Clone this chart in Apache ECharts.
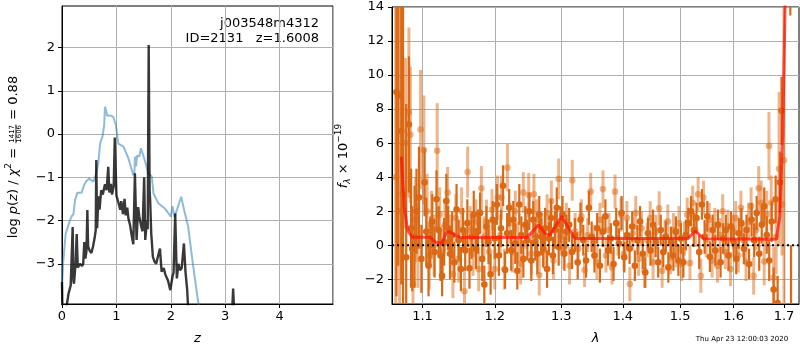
<!DOCTYPE html>
<html>
<head>
<meta charset="utf-8">
<script src="https://cdn.jsdelivr.net/npm/echarts@6/dist/echarts.min.js"></script>
<style>
html, body { margin: 0; padding: 0; background: #fff; }
#main { width: 800px; height: 350px; }
</style>
</head>
<body>
<div id="main"></div>
<script>
// ---- p(z) panel ----
var pzBlueZ = [0, 0.02, 0.068, 0.147, 0.18, 0.21, 0.24, 0.28, 0.36, 0.40, 0.44, 0.5, 0.576, 0.62, 0.667, 0.70, 0.745, 0.775, 0.79, 0.81, 0.83, 0.88, 0.94, 0.99, 1.035, 1.13, 1.22, 1.31, 1.33, 1.34, 1.36, 1.38, 1.42, 1.45, 1.50, 1.59, 1.65, 1.68, 1.77, 1.89, 2.0, 2.03, 2.07, 2.1, 2.19, 2.26, 2.32, 2.38, 2.48, 2.55];
var pzBlueY = [-3.5, -3.0, -2.3, -1.99, -1.9, -1.85, -1.53, -1.36, -1.36, -1.2, -1.10, -1.03, -1.10, -0.95, -0.68, -0.22, -0.05, 0.2, 0.63, 0.55, 0.42, 0.43, 0.40, 0.21, -0.22, -0.29, -0.56, -0.95, -0.9, -0.52, -0.75, -0.5, -0.52, -0.33, -0.52, -0.91, -0.98, -1.37, -1.60, -1.72, -1.91, -1.67, -1.92, -1.93, -1.45, -1.84, -2.15, -2.76, -3.69, -4.3];

var pzDarkZ = [0, 0.01, 0.07, 0.12, 0.16, 0.18, 0.196, 0.21, 0.22, 0.25, 0.27, 0.29, 0.33, 0.37, 0.39, 0.41, 0.43, 0.45, 0.466, 0.48, 0.51, 0.54, 0.57, 0.6, 0.62, 0.63, 0.645, 0.67, 0.69, 0.72, 0.75, 0.79, 0.82, 0.85, 0.87, 0.9, 0.92, 0.95, 0.97, 1.0, 1.04, 1.07, 1.09, 1.12, 1.15, 1.17, 1.2, 1.22, 1.25, 1.28, 1.31, 1.34, 1.37, 1.4, 1.42, 1.45, 1.48, 1.51, 1.53, 1.56, 1.575, 1.593, 1.61, 1.62, 1.64, 1.67, 1.7, 1.73, 1.76, 1.8, 1.83, 1.87, 1.9, 1.95, 1.99, 2.03, 2.05, 2.08, 2.11, 2.14, 2.17, 2.2, 2.24, 2.27, 2.3, 2.33, 3.12, 3.145, 3.155, 3.17];
var pzDarkY = [-3.42, -4.3, -4.1, -3.69, -3.5, -3.46, -2.15, -3.4, -3.46, -3.0, -2.31, -3.09, -3.0, -3.05, -3.0, -2.5, -2.88, -2.7, -1.76, -2.6, -2.7, -2.75, -2.6, -2.4, -2.22, -0.6, -2.18, -1.44, -1.75, -1.3, -1.4, -1.16, -1.3, -0.76, -1.35, -1.15, -1.4, -1.2, -0.08, -1.42, -1.6, -1.75, -1.55, -1.85, -1.5, -1.88, -1.7, -1.95, -2.1, -2.34, -2.55, -0.91, -2.45, -1.69, -1.9, -2.1, -2.25, -1.0, -2.45, -2.0, -2.2, 2.06, -1.3, -1.53, -2.3, -2.84, -2.95, -3.0, -2.85, -2.65, -3.18, -3.1, -3.25, -3.4, -3.61, -3.3, -3.2, -1.84, -3.34, -3.0, -3.15, -3.1, -2.53, -3.2, -3.6, -4.3, -4.3, -3.57, -3.57, -4.3];

var pzTicksY = [-3, -2, -1, 0, 1, 2];

// ---- spectrum panel ----
var lamTicks = [1.1, 1.2, 1.3, 1.4, 1.5, 1.6, 1.7];
var fluxTicks = [-2, 0, 2, 4, 6, 8, 10, 12, 14];

var darkLam = [1.066, 1.0683, 1.0722, 1.0745, 1.0786, 1.0821, 1.0850, 1.0865, 1.0895, 1.0920, 1.0953, 1.0985, 1.1027, 1.1050, 1.1080, 1.1105, 1.1130, 1.1160, 1.1187, 1.1215, 1.1240, 1.1263, 1.1290, 1.1320, 1.1345, 1.1370, 1.1400, 1.1430, 1.1460, 1.1490, 1.1520, 1.1550, 1.1580, 1.1610, 1.1640, 1.1670, 1.1700, 1.1730, 1.1760, 1.1790, 1.1820, 1.1850, 1.1880, 1.1910, 1.1940, 1.1970, 1.2000, 1.2030, 1.2060, 1.2090, 1.2120, 1.2150, 1.2180, 1.2210, 1.2240, 1.2270, 1.2300, 1.2330, 1.2360, 1.2390, 1.2420, 1.2450, 1.2480, 1.2510, 1.2540, 1.2570, 1.2600, 1.2630, 1.2660, 1.2690, 1.2720, 1.2750, 1.2780, 1.2810, 1.2840, 1.2870, 1.2900, 1.2930, 1.2960, 1.2990, 1.3020, 1.3050, 1.3080, 1.3125, 1.3170, 1.3215, 1.3260, 1.3305, 1.3350, 1.3395, 1.3440, 1.3485, 1.3530, 1.3575, 1.3620, 1.3665, 1.3710, 1.3755, 1.3800, 1.3845, 1.3890, 1.3935, 1.3980, 1.4025, 1.4070, 1.4115, 1.4160, 1.4205, 1.4250, 1.4295, 1.4340, 1.4385, 1.4430, 1.4475, 1.4520, 1.4565, 1.4610, 1.4655, 1.4700, 1.4745, 1.4790, 1.4835, 1.4880, 1.4925, 1.4970, 1.5015, 1.5060, 1.5105, 1.5150, 1.5200, 1.5250, 1.5300, 1.5350, 1.5400, 1.5450, 1.5500, 1.5550, 1.5600, 1.5650, 1.5700, 1.5750, 1.5800, 1.5850, 1.5900, 1.5950, 1.6000, 1.6050, 1.6100, 1.6150, 1.6200, 1.6250, 1.6300, 1.6350, 1.6400, 1.6450, 1.6500, 1.6550, 1.6600, 1.6650, 1.6700, 1.6750, 1.6790, 1.6830, 1.6870, 1.6915, 1.6950, 1.7130, 1.7145];
var darkFlux = [9.0, 8.8, 6.7, 3.0, -0.7, 7.1, 1.0, -0.2, 0.5, 2.0, 2.8, -0.8, 3.7, 0.8, -1.2, 0.2, 1.4, -0.4, 2.7, 0.9, -0.6, -1.8, 0.2, 2.6, 1.0, -0.5, 0.6, -1.0, 2.1, 0.3, -1.4, 0.9, -0.3, 1.3, -1.35, 0.5, 1.8, -0.2, 0.8, 1.9, -0.8, -2.3, 1.1, 0.2, -1.7, 1.5, 0.4, 2.4, -0.6, 1.0, 3.5, -1.45, 0.7, 2.2, -0.3, 1.5, 0.1, -1.5, 2.4, 0.6, -0.8, 1.2, 0.3, 2.0, -0.9, 1.5, 0.2, -0.5, 1.8, 0.5, -0.2, 1.0, -1.4, 0.4, 1.6, -0.6, 0.9, 2.2, -0.1, 1.2, 1.8, -0.5, 0.8, 1.2, -0.4, 0.6, -1.0, 1.5, 0.3, -0.9, 2.2, 0.5, -0.6, 1.0, -1.2, 0.8, 1.7, -0.3, 0.4, -1.1, 1.3, 0.1, 1.9, -0.7, 0.6, -0.2, 1.1, -1.2, 0.3, 1.4, -0.5, -1.6, 0.7, -0.3, 1.2, 0.2, -1.0, 0.9, -0.4, 0.5, -1.3, 0.2, -0.6, 0.8, -0.9, 0.4, -1.0, 0.6, 1.3, 2.0, 0.9, 1.6, -0.4, 2.4, 0.5, 1.7, -0.67, 0.9, -0.3, 1.2, -1.0, 0.4, 0.9, -0.6, 1.1, 0.2, -0.8, 0.7, 1.3, -0.2, 0.9, -1.1, 1.5, 0.3, 1.9, -0.5, 1.2, 2.3, 0.6, -0.9, 1.4, -2.6, 2.7, -3.4, 3.7, 7.9, 16, -6];
var darkErr = [12, 10, 9, 12, 9, 4.0, 3.5, 2.5, 3.0, 2.5, 3.0, 2.0, 2.0, 2.0, 1.8, 1.5, 1.6, 1.5, 1.7, 1.4, 1.5, 1.2, 1.4, 1.6, 1.3, 1.5, 1.4, 1.2, 1.5, 1.2, 1.3, 1.3, 1.2, 1.4, 1.2, 1.3, 1.4, 1.2, 1.3, 1.2, 1.3, 1.1, 1.2, 1.3, 1.2, 1.1, 1.2, 1.2, 1.2, 1.1, 1.2, 1.1, 1.2, 1.1, 1.2, 1.1, 1.2, 1.1, 1.2, 1.1, 1.1, 1.1, 1.2, 1.1, 1.2, 1.1, 1.1, 1.2, 1.1, 1.1, 1.1, 1.2, 1.1, 1.0, 1.1, 1.1, 1.1, 1.2, 1.1, 1.1, 1.1, 1.0, 1.0, 1.0, 1.0, 1.0, 1.0, 1.0, 0.9, 1.0, 1.0, 0.9, 1.0, 0.9, 1.0, 0.9, 1.0, 0.9, 0.9, 1.0, 0.9, 0.9, 1.0, 0.9, 0.9, 0.9, 0.9, 0.9, 0.9, 0.9, 0.9, 0.9, 0.9, 0.9, 0.9, 0.9, 0.9, 0.9, 0.9, 0.9, 0.9, 0.9, 0.9, 0.9, 0.9, 0.9, 0.9, 0.9, 0.9, 0.9, 1.0, 0.9, 1.0, 0.9, 1.0, 0.9, 0.9, 0.9, 0.9, 0.9, 0.9, 0.9, 0.9, 0.9, 0.9, 0.9, 0.9, 0.9, 0.9, 0.9, 0.9, 0.9, 1.0, 1.0, 1.0, 1.0, 1.1, 1.1, 1.1, 1.2, 1.2, 1.3, 1.4, 1.6, 1.8, 2.0, 2.5, 6.0, 5.7, 4.0];

var lightLam = [1.0650, 1.0700, 1.0777, 1.0821, 1.0840, 1.0874, 1.0910, 1.0940, 1.0974, 1.1018, 1.1060, 1.1090, 1.1120, 1.1155, 1.1196, 1.1230, 1.1270, 1.1300, 1.1338, 1.1375, 1.1410, 1.1450, 1.1490, 1.1530, 1.1570, 1.1614, 1.1650, 1.1690, 1.1730, 1.1770, 1.1808, 1.1845, 1.1880, 1.1920, 1.1960, 1.2000, 1.2040, 1.2080, 1.2098, 1.2140, 1.2184, 1.2220, 1.2260, 1.2300, 1.2340, 1.2380, 1.2420, 1.2460, 1.2500, 1.2540, 1.2580, 1.2620, 1.2660, 1.2700, 1.2740, 1.2780, 1.2846, 1.2880, 1.2920, 1.2960, 1.3000, 1.3040, 1.3080, 1.3130, 1.3174, 1.3220, 1.3270, 1.3320, 1.3370, 1.3420, 1.3470, 1.3520, 1.3570, 1.3620, 1.3670, 1.3720, 1.3770, 1.3820, 1.3870, 1.3920, 1.3970, 1.4020, 1.4070, 1.4120, 1.4170, 1.4220, 1.4270, 1.4320, 1.4370, 1.4420, 1.4470, 1.4520, 1.4570, 1.4627, 1.4680, 1.4730, 1.4780, 1.4830, 1.4880, 1.4930, 1.4980, 1.5030, 1.5080, 1.5130, 1.5180, 1.5230, 1.5280, 1.5330, 1.5380, 1.5430, 1.5480, 1.5535, 1.5590, 1.5640, 1.5690, 1.5740, 1.5790, 1.5840, 1.5890, 1.5940, 1.5990, 1.6040, 1.6090, 1.6140, 1.6190, 1.6240, 1.6290, 1.6340, 1.6390, 1.6440, 1.6490, 1.6540, 1.6600, 1.6650, 1.6695, 1.6740, 1.6790, 1.6840, 1.6900, 1.6960, 1.7000];
var lightFlux = [4, 2, 6.0, 7.8, 6.5, -2.3, 1.5, 0.0, 6.8, 5.6, 2.0, -0.6, 1.2, 0.0, 5.55, 1.8, -0.4, 1.2, 3.1, 0.3, -1.7, 1.6, -0.8, 2.0, -2.7, 4.3, 0.9, -0.5, 1.4, -1.4, 3.35, 0.5, 1.38, -0.37, 2.1, -1.4, 2.8, 0.6, 2.8, -1.4, 4.56, 1.3, -0.4, 2.0, 0.2, -1.1, 3.1, 1.0, 2.95, -0.5, 3.0, 1.5, -1.75, 0.8, -0.3, 1.9, 2.6, -0.9, 1.2, 3.9, 0.5, -0.3, 1.4, -1.2, 3.82, 0.8, -0.2, 1.7, -1.45, 0.6, 3.15, 0.2, -1.0, 1.5, 3.3, -0.6, 0.9, -1.3, 3.15, 0.4, 1.8, -0.5, 1.6, -2.28, 0.7, 1.9, -0.8, 1.0, -1.5, 0.3, 1.6, -1.0, 0.8, 2.17, -1.5, 0.5, 1.4, -0.7, 0.9, -0.3, 1.3, -1.1, 0.4, 1.8, -1.05, 2.5, 0.9, 3.0, -1.8, 2.8, 0.3, 1.5, -0.9, 1.2, -1.2, 0.6, 2.0, -0.4, 1.1, -1.4, 0.8, 1.6, -0.6, 2.2, 0.3, -1.0, 1.4, 2.3, -1.8, 0.9, 3.35, 2.5, -0.95, 1.8, 5.84, 2.5, -1.9, 0.5, 4.5, 2.4, 5];
var lightErr = [14, 14, 5, 5, 4, 3, 2.5, 2.5, 3.5, 3.2, 2.2, 2.0, 2.0, 1.8, 2.8, 1.6, 1.6, 1.5, 1.5, 1.5, 1.4, 1.4, 1.4, 1.4, 1.4, 1.5, 1.4, 1.3, 1.3, 1.3, 1.3, 1.2, 1.3, 1.3, 1.2, 1.2, 1.3, 1.2, 1.3, 1.2, 1.4, 1.2, 1.2, 1.2, 1.2, 1.2, 1.2, 1.2, 1.3, 1.2, 1.2, 1.2, 1.2, 1.1, 1.1, 1.1, 1.2, 1.1, 1.1, 1.2, 1.1, 1.1, 1.1, 1.1, 1.2, 1.1, 1.0, 1.0, 1.0, 1.0, 1.1, 1.0, 1.0, 1.0, 1.1, 1.0, 1.0, 1.0, 1.0, 1.0, 1.0, 1.0, 1.0, 1.0, 1.0, 1.0, 1.0, 1.0, 1.0, 1.0, 1.0, 1.0, 1.0, 1.0, 1.0, 1.0, 1.0, 1.0, 1.0, 1.0, 1.0, 1.0, 1.0, 1.0, 1.0, 1.0, 1.0, 1.0, 1.0, 1.0, 1.0, 1.0, 1.0, 1.0, 1.0, 1.0, 1.0, 1.0, 1.0, 1.0, 1.0, 1.0, 1.0, 1.0, 1.0, 1.1, 1.1, 1.1, 1.1, 1.2, 1.3, 1.3, 1.4, 1.4, 2.0, 1.6, 1.8, 2.2, 4.5, 3.0, 10];

var modelLam = [1.0722, 1.0761, 1.0803, 1.0861, 1.1102, 1.1168, 1.1259, 1.128, 1.132, 1.137, 1.145, 1.1534, 1.2471, 1.2647, 1.2749, 1.2826, 1.3006, 1.3215, 1.5147, 1.5276, 1.5438, 1.6843, 1.6915, 1.6974, 1.7035];
var modelFlux = [5.21, 2.27, 0.9, 0.47, 0.47, 0.2, 0.1, 0.15, 0.75, 0.8, 0.55, 0.45, 0.45, 1.19, 0.7, 0.6, 1.7, 0.4, 0.4, 0.85, 0.38, 0.35, 1.7, 6.6, 16];

var FONT = 'DejaVu Sans';
var DARK = 'rgb(218,104,20)';
var LIGHT = 'rgba(221,107,22,0.5)';

function zip(a, b) { return a.map(function (v, i) { return [v, b[i]]; }); }
function lg(v) { return Math.log10(v); }
function minus(v) { return String(v).replace('-', '\u2212'); }

function errData(lam, f, e) {
    return lam.map(function (l, i) { return [lg(l), f[i], e[i]]; });
}

function errRender(color, lw) {
    return function (params, api) {
        var cs = params.coordSys;
        var x = api.value(0), y = api.value(1), e = api.value(2);
        var p = api.coord([x, y]);
        var lo = api.coord([x, y - e]);
        var hi = api.coord([x, y + e]);
        var y1 = Math.max(cs.y, Math.min(cs.y + cs.height, hi[1]));
        var y2 = Math.max(cs.y, Math.min(cs.y + cs.height, lo[1]));
        var kids = [{
            type: 'line',
            shape: { x1: p[0], y1: y1, x2: p[0], y2: y2 },
            style: { stroke: color, lineWidth: lw }
        }];
        if (p[1] >= cs.y && p[1] <= cs.y + cs.height) {
            kids.push({ type: 'circle', shape: { cx: p[0], cy: p[1], r: 3.3 }, style: { fill: color } });
        }
        return { type: 'group', children: kids };
    };
}

// rotated multi-part axis labels, measured with a canvas
var ctx = document.createElement('canvas').getContext('2d');
function tw(s, font) { ctx.font = font; return ctx.measureText(s).width; }

function rotLabel(cx, cy, parts) {
    var len = 0;
    parts.forEach(function (p) { p.w = p.frac ? Math.max(tw(p.num, p.font), tw(p.den, p.font)) + 2 : tw(p.t, p.font); len += p.w; });
    var kids = [];
    var x = 0;
    parts.forEach(function (p) {
        if (p.frac) {
            kids.push({ type: 'text', x: x + p.w / 2, y: p.dn, style: { text: p.num, font: p.font, fill: '#000', align: 'center', verticalAlign: 'middle' } });
            kids.push({ type: 'text', x: x + p.w / 2, y: p.dd, style: { text: p.den, font: p.font, fill: '#000', align: 'center', verticalAlign: 'middle' } });
            kids.push({ type: 'line', shape: { x1: x + 0.5, y1: p.dl, x2: x + p.w - 0.5, y2: p.dl }, style: { stroke: '#000', lineWidth: 0.8 } });
        } else {
            kids.push({ type: 'text', x: x, y: p.dy || 0, style: { text: p.t, font: p.font, fill: '#000', align: 'left', verticalAlign: 'middle' } });
        }
        x += p.w;
    });
    return { type: 'group', x: cx, y: cy + len / 2, rotation: Math.PI / 2, children: kids };
}

var N = '13px "DejaVu Sans"', I = 'italic 13px "DejaVu Sans"', S = '9px "DejaVu Sans"', F = '7px "DejaVu Sans"';

var leftLabel = rotLabel(13.5, 157, [
    { t: 'log ', font: N }, { t: 'p', font: I }, { t: '(', font: N }, { t: 'z', font: I },
    { t: ') / ', font: N }, { t: '\u03c7', font: I }, { t: '2', font: S, dy: -5 }, { t: ' = ', font: N },
    { frac: true, num: '1417', den: '1606', font: F, dn: -1, dd: 5.8, dl: 2.4 },
    { t: ' = 0.88', font: N }
]);
var rightLabel = rotLabel(344, 156, [
    { t: 'f', font: I }, { t: '\u03bb', font: 'italic 9px "DejaVu Sans"', dy: 3.5 },
    { t: ' \u00d7 10', font: N }, { t: '\u221219', font: S, dy: -5 }
]);

var axisCommon = {
    axisLine: { show: true, onZero: false, lineStyle: { color: '#000', width: 1 } },
    axisTick: { show: true, inside: false, length: 4, lineStyle: { color: '#000' } },
    splitLine: { show: true, lineStyle: { color: '#b0b0b0', width: 1 } },
    axisLabel: { color: '#000', fontFamily: FONT, fontSize: 13 }
};
function ax(o) { return echarts.util.merge(echarts.util.clone(axisCommon), o, true); }

var chart = echarts.init(document.getElementById('main'));
chart.setOption({
    animation: false,
    backgroundColor: '#fff',
    grid: [
        { left: 62, top: 6, width: 271, height: 298, show: true, borderColor: '#000', borderWidth: 1 },
        { left: 392, top: 7, width: 407, height: 297, show: true, borderColor: '#000', borderWidth: 1 }
    ],
    xAxis: [
        ax({ gridIndex: 0, type: 'value', min: 0, max: 4.98, interval: 1,
            name: 'z', nameLocation: 'middle', nameGap: 28,
            nameTextStyle: { fontFamily: FONT, fontSize: 13, fontStyle: 'italic', color: '#000' },
            axisLabel: { margin: 6, showMaxLabel: false } }),
        ax({ gridIndex: 1, type: 'value', min: lg(1.0603), max: lg(1.731),
            name: '\u03bb', nameLocation: 'middle', nameGap: 28,
            nameTextStyle: { fontFamily: FONT, fontSize: 13, fontStyle: 'italic', color: '#000' },
            axisTick: { customValues: lamTicks.map(lg) },
            axisLabel: { margin: 6, customValues: lamTicks.map(lg), formatter: function (v) { return Math.pow(10, v).toFixed(1); } } })
    ],
    yAxis: [
        ax({ gridIndex: 0, type: 'value', min: -3.93, max: 2.96,
            axisTick: { customValues: pzTicksY },
            axisLabel: { margin: 7, customValues: pzTicksY, formatter: minus } }),
        ax({ gridIndex: 1, type: 'value', min: -3.45, max: 14,
            axisTick: { customValues: fluxTicks },
            axisLabel: { margin: 8, customValues: fluxTicks, formatter: minus } })
    ],
    series: [
        { type: 'line', xAxisIndex: 0, yAxisIndex: 0, data: zip(pzBlueZ, pzBlueY), showSymbol: false, clip: true,
            lineStyle: { color: 'rgba(31,119,180,0.5)', width: 2 } },
        { type: 'line', xAxisIndex: 0, yAxisIndex: 0, data: zip(pzDarkZ, pzDarkY), showSymbol: false, clip: true,
            lineStyle: { color: 'rgba(0,0,0,0.78)', width: 2.4 } },
        { type: 'custom', xAxisIndex: 1, yAxisIndex: 1, clip: true, data: errData(lightLam, lightFlux, lightErr),
            renderItem: errRender(LIGHT, 3) },
        { type: 'custom', xAxisIndex: 1, yAxisIndex: 1, clip: true, data: errData(darkLam, darkFlux, darkErr),
            renderItem: errRender(DARK, 2.2) },
        { type: 'line', xAxisIndex: 1, yAxisIndex: 1, data: [[lg(1.0603), 0], [lg(1.731), 0]], showSymbol: false,
            lineStyle: { color: '#000', width: 2, type: [2, 3] } },
        { type: 'line', xAxisIndex: 1, yAxisIndex: 1, data: zip(modelLam.map(lg), modelFlux), showSymbol: false, clip: true,
            lineStyle: { color: 'rgba(255,20,10,0.72)', width: 3 } }
    ],
    graphic: [
        leftLabel,
        rightLabel,
        { type: 'text', x: 319, y: 24, style: { text: 'j003548m4312', font: N, fill: '#000', align: 'right', verticalAlign: 'middle' } },
        { type: 'text', x: 319, y: 39, style: { text: 'ID=2131   z=1.6008', font: N, fill: '#000', align: 'right', verticalAlign: 'middle' } },
        { type: 'text', x: 742, y: 339, style: { text: 'Thu Apr 23 12:00:03 2020', font: '7px "DejaVu Sans"', fill: '#000', align: 'center', verticalAlign: 'middle' } }
    ]
});
</script>
</body>
</html>
